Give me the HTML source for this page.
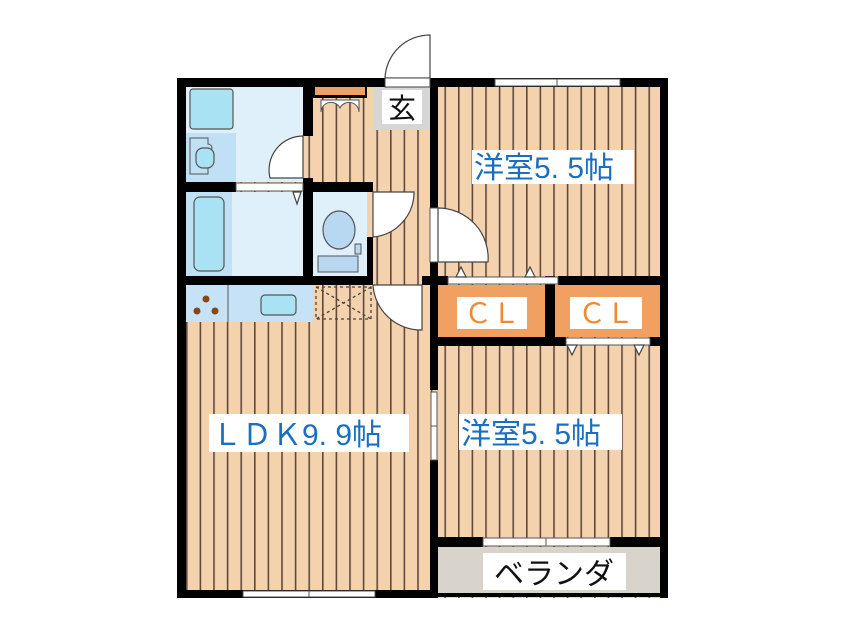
<!DOCTYPE html>
<html><head><meta charset="utf-8"><style>
html,body{margin:0;padding:0;background:#fff;width:846px;height:634px;overflow:hidden}
svg{display:block}
</style></head><body>
<svg width="846" height="634" viewBox="0 0 846 634" xmlns="http://www.w3.org/2000/svg">
<defs>
<pattern id="fl" x="186" y="0" width="13.6" height="20" patternUnits="userSpaceOnUse">
<rect width="13.6" height="20" fill="#f5d2ae"/>
<rect x="0" y="0" width="1.6" height="20" fill="#5f4a3b"/>
</pattern>
</defs>
<rect width="846" height="634" fill="#fff"/>
<rect x="177" y="78" width="491" height="520" fill="url(#fl)"/>
<rect x="186" y="86" width="117" height="96" fill="#dff0fb"/>
<rect x="190" y="89" width="43" height="40" rx="3" fill="#a9e3f3" stroke="#555" stroke-width="1.2"/>
<rect x="186" y="133" width="50" height="49" fill="#bfe0f5"/>
<path d="M190 138 h18 v6 a4 4 0 0 1 0 8 v8 a4 4 0 0 1 0 8 v6 h-18z" fill="#bfe0f5" stroke="#555" stroke-width="1"/>
<rect x="196" y="148" width="18" height="20" rx="7" fill="#a9e3f3" stroke="#555" stroke-width="1.2"/>
<rect x="186" y="192" width="117" height="84" fill="#dff0fb"/>
<rect x="186" y="192" width="46" height="84" fill="#bfe0f5"/>
<rect x="194" y="197" width="30" height="74" rx="6" fill="#a9e3f3" stroke="#555" stroke-width="1.2"/>
<rect x="313" y="192" width="54" height="84" fill="#dff0fb"/>
<ellipse cx="339" cy="230" rx="16" ry="19" fill="#b8d8f2" stroke="#555" stroke-width="1.2"/>
<rect x="318" y="256" width="40" height="16" fill="#b8d8f2" stroke="#555" stroke-width="1"/>
<rect x="355" y="244" width="6" height="10" fill="#b8d8f2" stroke="#555" stroke-width="1"/>
<rect x="186" y="285" width="127" height="37" fill="#c6e2f7"/>
<line x1="228" y1="285" x2="228" y2="322" stroke="#555" stroke-width="1"/>
<rect x="261" y="295" width="35" height="20" rx="4" fill="#a9e3f3" stroke="#555" stroke-width="1.2"/>
<circle cx="206" cy="299" r="3.5" fill="#8b4513"/><circle cx="197" cy="311" r="3.5" fill="#8b4513"/><circle cx="215" cy="311" r="3.5" fill="#8b4513"/>
<rect x="316" y="287" width="55" height="32" fill="none" stroke="#444" stroke-width="1.3" stroke-dasharray="3 3"/>
<path d="M316 287 L371 319 M371 287 L316 319" stroke="#444" stroke-width="1.3" stroke-dasharray="3 3"/>
<rect x="373" y="86" width="57" height="44" fill="#d6d6d6"/>
<rect x="382" y="90" width="40" height="34" fill="#fff"/>
<text x="402" y="118" font-family="Liberation Sans,Noto Sans CJK JP,sans-serif" font-size="28" text-anchor="middle" fill="#111">玄</text>
<rect x="313" y="86" width="54" height="12" fill="#000"/>
<rect x="315" y="87" width="50" height="8" fill="#f0a060"/>
<path d="M321 100 h38 v12 a10 10 0 0 0 -19 -4 a10 10 0 0 0 -19 4z" fill="#fff" stroke="#555" stroke-width="1"/>
<rect x="438" y="285" width="222" height="52" fill="#f0a060"/>
<rect x="457" y="297" width="70" height="32" fill="#fff"/>
<rect x="570" y="297" width="72" height="32" fill="#fff"/>
<text x="492" y="323" font-family="Liberation Sans,Noto Sans CJK JP,sans-serif" font-size="28" text-anchor="middle" fill="#f08a30">ＣＬ</text>
<text x="606" y="323" font-family="Liberation Sans,Noto Sans CJK JP,sans-serif" font-size="28" text-anchor="middle" fill="#f08a30">ＣＬ</text>
<rect x="438" y="547" width="222" height="47" fill="#d8d3cb"/>
<rect x="483" y="553" width="143" height="37" fill="#fff"/>
<text x="554" y="584" font-family="Liberation Sans,Noto Sans CJK JP,sans-serif" font-size="30" text-anchor="middle" fill="#111">ベランダ</text>
<g fill="#000">
<rect x="177" y="78" width="208" height="9"/>
<rect x="430" y="78" width="238" height="9"/>
<rect x="177" y="78" width="9" height="520"/>
<rect x="660" y="78" width="8" height="520"/>
<rect x="177" y="590" width="261" height="8"/>
<rect x="438" y="593" width="230" height="4"/>
<rect x="303" y="86" width="10" height="50"/>
<rect x="303" y="178" width="10" height="107"/>
<rect x="186" y="182" width="50" height="10"/>
<rect x="303" y="182" width="70" height="10"/>
<rect x="367" y="182" width="6" height="10"/>
<rect x="367" y="237" width="6" height="48"/>
<rect x="177" y="276" width="196" height="9"/>
<rect x="422" y="276" width="16" height="9"/>
<rect x="430" y="78" width="8" height="130"/>
<rect x="430" y="262" width="8" height="128"/>
<rect x="430" y="460" width="8" height="138"/>
<rect x="438" y="276" width="10" height="9"/>
<rect x="558" y="276" width="102" height="9"/>
<rect x="545" y="276" width="10" height="70"/>
<rect x="438" y="337" width="128" height="9"/>
<rect x="650" y="337" width="10" height="9"/>
<rect x="438" y="537" width="45" height="10"/>
<rect x="610" y="537" width="50" height="10"/>
</g>
<g fill="#fff" stroke="#555" stroke-width="1">
<rect x="495" y="79" width="125" height="7"/>
<line x1="557" y1="79" x2="557" y2="86"/>
<rect x="243" y="591" width="132" height="6"/>
<line x1="309" y1="591" x2="309" y2="597"/>
<rect x="483" y="538" width="127" height="8"/>
<line x1="546" y1="538" x2="546" y2="546"/>
<rect x="431" y="392" width="6" height="68"/>
<line x1="431" y1="426" x2="437" y2="426"/>
<rect x="236" y="183" width="67" height="8"/>
<rect x="448" y="277" width="110" height="7"/>
<rect x="566" y="338" width="84" height="7"/>
<rect x="430" y="208" width="8" height="54"/>
</g>
<g fill="#fff" stroke="#444" stroke-width="1.2">
<path d="M430 35 L430 78 L385 78 A45 45 0 0 1 430 35 Z"/>
<rect x="385" y="78" width="45" height="9" stroke-width="1"/>
<path d="M303 136 L303 178 L270 178 A34 34 0 0 1 303 136 Z"/>
<path d="M373 192 L373 237 A45 45 0 0 0 414 192 Z"/>
<path d="M438 208 L438 262 L488 262 A50 50 0 0 0 438 208 Z"/>
<path d="M373 285 L422 285 L422 330 A48 48 0 0 1 373 285 Z"/>
<path d="M293 192 l4 12 l4 -12z"/>
<path d="M456 277 l5 -10 l5 10z"/>
<path d="M525 277 l5 -10 l5 10z"/>
<path d="M567 345 l5 10 l5 -10z"/>
<path d="M634 345 l5 10 l5 -10z"/>
</g>
<g font-family="Liberation Sans,Noto Sans CJK JP,sans-serif" font-size="30" fill="#1a6fbf">
<rect x="472" y="150" width="162" height="34" fill="#fff"/>
<text x="474" y="178">洋室5. 5帖</text>
<rect x="209" y="414" width="200" height="38" fill="#fff"/>
<text x="212" y="445">ＬＤＫ9. 9帖</text>
<rect x="459" y="414" width="163" height="36" fill="#fff"/>
<text x="461" y="444">洋室5. 5帖</text>
</g>
</svg>
</body></html>
